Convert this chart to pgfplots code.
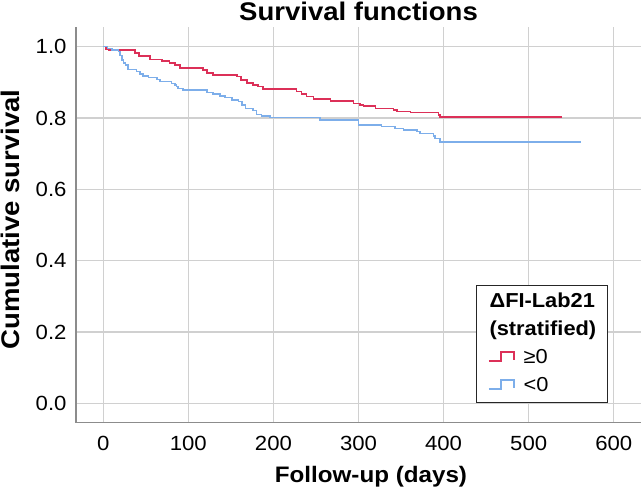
\documentclass[border=0pt]{standalone}
\usepackage{pgfplots}
\pgfplotsset{compat=1.18}
\usepackage{fontspec}
\setmainfont{Liberation Sans}[FakeStretch=1.08]

\definecolor{kmred}{RGB}{220,48,88}
\definecolor{kmblue}{RGB}{125,174,234}
\definecolor{gridgray}{RGB}{208,208,208}

\begin{document}
\begin{tikzpicture}
\begin{axis}[
    name=ax,
    scale only axis,
    width=565bp, height=396bp,
    xmin=-32, xmax=632,
    ymin=-0.054, ymax=1.056,
    xtick={0,100,200,300,400,500,600},
    ytick={0,0.2,0.4,0.6,0.8,1.0},
    axis x line*=bottom, axis y line*=left,
    axis line style={black!45, line width=1.2bp},
    major tick length=0pt,
    grid=major,
    major grid style={gridgray, line width=1.2bp},
    /pgf/number format/assume math mode=true,
    y tick label style={/pgf/number format/.cd, fixed, fixed zerofill, precision=1, /tikz/.cd},
    tick label style={font=\fontsize{20.5bp}{25bp}\selectfont, inner sep=0pt},
    xticklabel style={anchor=north, yshift=-13bp},
    yticklabel style={anchor=east, xshift=-9.3bp},
    title={Survival functions},
    title style={font=\bfseries\fontsize{25.5bp}{30bp}\selectfont, at={(axis description cs:0.5,1)}, anchor=base, yshift=0.7bp},
    xlabel={Follow-up (days)},
    xlabel style={font=\bfseries\fontsize{22.4bp}{27bp}\selectfont, at={([yshift=-59.7bp]axis description cs:0.522,0)}, anchor=base},
    ylabel={Cumulative survival},
    ylabel style={font=\bfseries\fontsize{25.5bp}{30bp}\selectfont, at={([xshift=-56bp]axis description cs:0,0.513)}, anchor=base},
    legend cell align=left,
    legend image code/.code={\draw[#1] (0bp,-3bp) -- (12bp,-3bp) -- (12bp,6bp) -- (25bp,6bp) -- (25bp,-2bp); \path (34bp,0bp);},
    legend style={at={(0.942,0.0505)}, anchor=south east, draw=black!85, line width=0.8bp, fill=white,
        font=\fontsize{20.2bp}{25bp}\selectfont, inner xsep=11.6bp, inner ysep=6bp, row sep=7bp,
        nodes={inner sep=0pt, text height=16bp, text depth=5bp}},
]
\addlegendimage{empty legend}
\addlegendentry{\hspace{-34bp}\textbf{ΔFI-Lab21}}
\addlegendimage{empty legend}
\addlegendentry{\hspace{-34bp}\textbf{(stratified)}}

% >=0 group
\addplot[const plot, kmred, line width=1.6bp] coordinates {
    (0,1.0)(3,0.993)(6,0.99)(37,0.982)(42,0.974)(55,0.964)(69,0.960)(78,0.955)
    (84,0.948)(90,0.941)(117,0.934)(122,0.927)(129,0.920)(157,0.916)(162,0.906)
    (169,0.899)(176,0.892)(182,0.888)(188,0.881)(227,0.874)(233,0.867)(239,0.860)
    (247,0.853)(267,0.848)(294,0.841)(302,0.836)(306,0.833)(320,0.827)(341,0.822)
    (345,0.818)(361,0.815)(394,0.808)(396,0.803)(539,0.803)
};
\addlegendentry{≥0}

% <0 group
\addplot[const plot, kmblue, line width=1.6bp] coordinates {
    (0,1.0)(5,0.995)(10,0.99)(18,0.986)(20,0.975)(22,0.962)(24,0.955)(26,0.948)
    (29,0.936)(39,0.930)(43,0.923)(47,0.918)(53,0.914)(63,0.908)(67,0.902)(80,0.897)
    (84,0.892)(86,0.888)(88,0.883)(94,0.878)(122,0.871)(129,0.867)(137,0.862)
    (143,0.857)(151,0.850)(159,0.846)(163,0.836)(167,0.827)(176,0.821)(180,0.810)
    (186,0.806)(196,0.801)(255,0.794)(300,0.780)(327,0.776)(343,0.771)(353,0.766)
    (369,0.762)(372,0.757)(388,0.749)(390,0.743)(396,0.733)(561,0.733)
};
\addlegendentry{<0}
\end{axis}
\pgfresetboundingbox
\path[use as bounding box] ([shift={(-76bp,-68.3bp)}]ax.south west) rectangle ([shift={(3bp,26.7bp)}]ax.north east);
\end{tikzpicture}
\end{document}
